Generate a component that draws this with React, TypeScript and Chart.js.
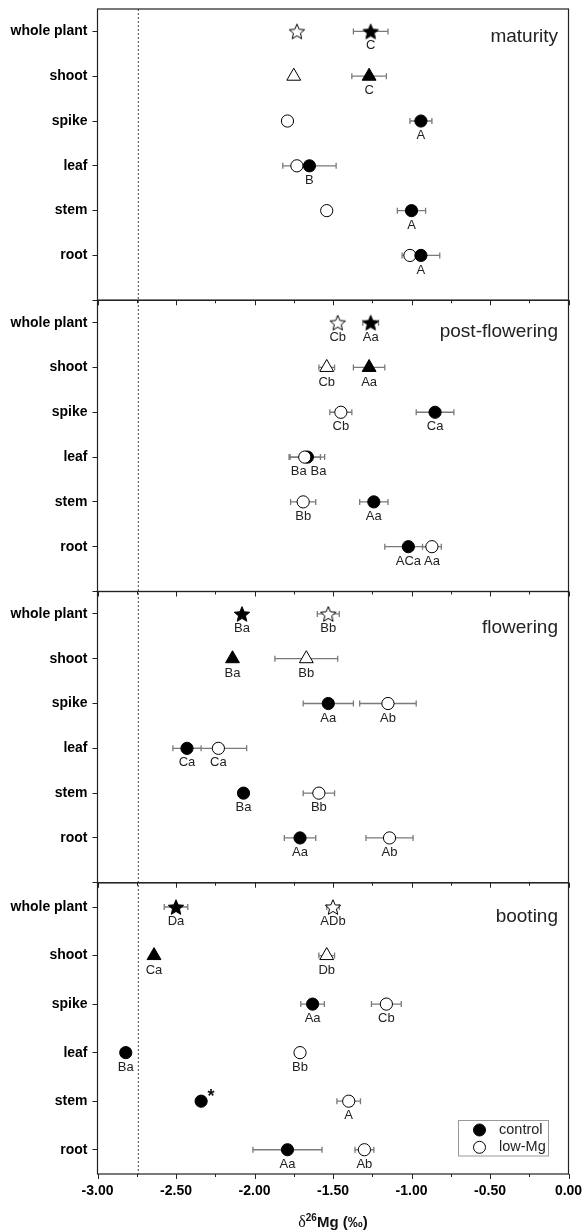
import React, { useEffect, useRef } from 'react';
import { Chart, registerables } from 'chart.js';

Chart.register(...registerables);

// ---------- data ----------
const categories = ['whole plant', 'shoot', 'spike', 'leaf', 'stem', 'root'];
const stages = ['maturity', 'post-flowering', 'flowering', 'booting'];
const seriesNames = ['control', 'low-Mg'];
const referenceLine = -2.74;

const maturityControl = [-1.26, -1.27, -0.94, -1.65, -1.0, -0.94];
const maturityControlErr = [0.11, 0.11, 0.07, 0.17, 0.09, 0.12];
const maturityControlLabels = ['C', 'C', 'A', 'B', 'A', 'A'];
const maturityLowMg = [-1.73, -1.75, -1.79, -1.73, -1.54, -1.01];
const maturityLowMgErr = [0, 0, 0, 0, 0, 0];
const maturityLowMgLabels = ['', '', '', '', '', ''];

const postControl = [-1.26, -1.27, -0.85, -1.663, -1.24, -1.02];
const postControlErr = [0.05, 0.1, 0.12, 0.11, 0.09, 0.15];
const postControlLabels = ['Aa', 'Aa', 'Ca', 'Ba', 'Aa', 'ACa'];
const postLowMg = [-1.47, -1.54, -1.45, -1.68, -1.69, -0.87];
const postLowMgErr = [0, 0.05, 0.07, 0.1, 0.08, 0.06];
const postLowMgLabels = ['Cb', 'Cb', 'Cb', 'Ba', 'Bb', 'Aa'];

const flowControl = [-2.08, -2.14, -1.53, -2.43, -2.07, -1.71];
const flowControlErr = [0, 0, 0.16, 0.09, 0, 0.1];
const flowControlLabels = ['Ba', 'Ba', 'Aa', 'Ca', 'Ba', 'Aa'];
const flowLowMg = [-1.53, -1.67, -1.15, -2.23, -1.59, -1.14];
const flowLowMgErr = [0.07, 0.2, 0.18, 0.18, 0.1, 0.15];
const flowLowMgLabels = ['Bb', 'Bb', 'Ab', 'Ca', 'Bb', 'Ab'];

const bootControl = [-2.5, -2.64, -1.63, -2.82, -2.34, -1.79];
const bootControlErr = [0.075, 0, 0.075, 0, 0, 0.22];
const bootControlLabels = ['Da', 'Ca', 'Aa', 'Ba', '', 'Aa'];
const bootControlMarks = ['', '', '', '', '*', ''];
const bootLowMg = [-1.5, -1.54, -1.16, -1.71, -1.4, -1.3];
const bootLowMgErr = [0.04, 0.05, 0.095, 0, 0.075, 0.06];
const bootLowMgLabels = ['ADb', 'Db', 'Cb', 'Bb', 'A', 'Ab'];

const noMarks = ['', '', '', '', '', ''];

const panels = [
  { control: maturityControl, controlErr: maturityControlErr, controlLabels: maturityControlLabels, controlMarks: noMarks,
    lowMg: maturityLowMg, lowMgErr: maturityLowMgErr, lowMgLabels: maturityLowMgLabels, controlOnTop: true },
  { control: postControl, controlErr: postControlErr, controlLabels: postControlLabels, controlMarks: noMarks,
    lowMg: postLowMg, lowMgErr: postLowMgErr, lowMgLabels: postLowMgLabels, controlOnTop: false },
  { control: flowControl, controlErr: flowControlErr, controlLabels: flowControlLabels, controlMarks: noMarks,
    lowMg: flowLowMg, lowMgErr: flowLowMgErr, lowMgLabels: flowLowMgLabels, controlOnTop: true },
  { control: bootControl, controlErr: bootControlErr, controlLabels: bootControlLabels, controlMarks: bootControlMarks,
    lowMg: bootLowMg, lowMgErr: bootLowMgErr, lowMgLabels: bootLowMgLabels, controlOnTop: true },
];

// ---------- styling ----------
const SANS = 'Arial, "Liberation Sans", Helvetica, sans-serif';
const SERIF = '"Liberation Serif", "Times New Roman", serif';
const panelYMin = [0, 0, 0, 0.5];
const panelTitleOffset = [28, 31.5, 36, 34];
const labelNudge: Record<string, number> = { '1-low-Mg-3': -6, '1-control-3': 11 };

function makeStar(fill: string): HTMLCanvasElement {
  const R = 8.1;
  const size = 22;
  const c = document.createElement('canvas');
  c.width = size;
  c.height = size;
  const g = c.getContext('2d')!;
  const cx = size / 2;
  const cy = size / 2 + 0.0955 * R;
  g.beginPath();
  for (let i = 0; i < 10; i++) {
    const r = i % 2 === 0 ? R : R * 0.45;
    const a = -Math.PI / 2 + (i * Math.PI) / 5;
    const px = cx + r * Math.cos(a);
    const py = cy + r * Math.sin(a);
    if (i === 0) g.moveTo(px, py);
    else g.lineTo(px, py);
  }
  g.closePath();
  g.fillStyle = fill;
  g.fill();
  g.lineWidth = 1;
  g.strokeStyle = '#000';
  g.stroke();
  return c;
}

export default function App() {
  const ref = useRef<HTMLCanvasElement | null>(null);

  useEffect(() => {
    const canvas = ref.current;
    if (!canvas) return;
    const filledStar = makeStar('#000');
    const openStar = makeStar('#fff');

    const axisIds = stages.map((_, i) => 'y' + i);
    const rows = categories.map((_, j) => categories.length - j);

    const datasets: any[] = [];
    panels.forEach((p, i) => {
      const mk = (name: string, values: number[], errs: number[], labels: string[], marks: string[], filled: boolean, order: number) => ({
        label: name + ' ' + stages[i],
        seriesName: name,
        panelIndex: i,
        data: values.map((v, j) => ({ x: v, y: rows[j] })),
        errors: errs,
        pointLabels: labels,
        marks,
        yAxisID: axisIds[i],
        order,
        backgroundColor: filled ? '#000' : '#fff',
        borderColor: '#000',
        borderWidth: 1,
        pointStyle: (ctx: any) => (ctx.dataIndex === 0 ? (filled ? filledStar : openStar) : ctx.dataIndex === 1 ? 'triangle' : 'circle'),
        pointRadius: (ctx: any) => (ctx.dataIndex === 1 ? 8 : 6.1),
        pointHoverRadius: (ctx: any) => (ctx.dataIndex === 1 ? 8 : 6.1),
        showLine: false,
        clip: false,
      });
      datasets.push(mk(seriesNames[0], p.control, p.controlErr, p.controlLabels, p.controlMarks, true, p.controlOnTop ? 0 : 1));
      datasets.push(mk(seriesNames[1], p.lowMg, p.lowMgErr, p.lowMgLabels, noMarks, false, p.controlOnTop ? 1 : 0));
    });

    const yScales: any = {};
    // defined bottom → top so the last defined ends on top of the stack
    for (let i = stages.length - 1; i >= 0; i--) {
      const min = panelYMin[i];
      yScales[axisIds[i]] = {
        type: 'linear',
        position: 'left',
        stack: 'panels',
        stackWeight: 1,
        min,
        max: 6.5,
        afterBuildTicks: (s: any) => {
          const vals: number[] = [];
          for (let v = Math.ceil(min); v <= categories.length; v++) vals.push(v);
          s.ticks = vals.map((v) => ({ value: v }));
        },
        afterFit: (s: any) => {
          s.width = 97.5;
          s.paddingTop = 0;
          s.paddingBottom = 0;
        },
        ticks: {
          autoSkip: false,
          padding: 5,
          color: '#000',
          font: { family: SANS, size: 14, weight: 'bold' },
          callback: (v: number) => (v >= 1 && v <= categories.length ? categories[categories.length - v] : ''),
        },
        grid: { display: true, drawOnChartArea: false, drawTicks: true, tickLength: 5, color: '#222', lineWidth: 1 },
        border: { display: false },
      };
    }

    const decorations = {
      id: 'decorations',
      beforeDatasetsDraw(chart: any) {
        const ctx = chart.ctx;
        const area = chart.chartArea;
        const xs = chart.scales.x;
        ctx.save();
        // reference dotted line
        const rx = xs.getPixelForValue(referenceLine);
        ctx.strokeStyle = '#444';
        ctx.lineWidth = 1;
        ctx.setLineDash([2, 2]);
        ctx.beginPath();
        ctx.moveTo(rx, area.top);
        ctx.lineTo(rx, area.bottom);
        ctx.stroke();
        ctx.setLineDash([]);
        // error bars
        ctx.strokeStyle = '#7a7a7a';
        ctx.lineWidth = 1.3;
        chart.data.datasets.forEach((ds: any) => {
          const ys = chart.scales[ds.yAxisID];
          ds.data.forEach((pt: any, j: number) => {
            const e = ds.errors[j];
            if (!e) return;
            const x0 = xs.getPixelForValue(pt.x - e);
            const x1 = xs.getPixelForValue(pt.x + e);
            const y = ys.getPixelForValue(pt.y);
            ctx.beginPath();
            ctx.moveTo(x0, y);
            ctx.lineTo(x1, y);
            ctx.moveTo(x0, y - 3);
            ctx.lineTo(x0, y + 3);
            ctx.moveTo(x1, y - 3);
            ctx.lineTo(x1, y + 3);
            ctx.stroke();
          });
        });
        ctx.restore();
      },
      afterDatasetsDraw(chart: any) {
        const ctx = chart.ctx;
        const area = chart.chartArea;
        const xs = chart.scales.x;
        ctx.save();
        // panel frames and x ticks at each panel bottom
        axisIds.forEach((id) => {
          const s = chart.scales[id];
          ctx.strokeStyle = '#222';
          ctx.lineWidth = 1.2;
          ctx.strokeRect(area.left, s.top, area.right - area.left, s.bottom - s.top);
          ctx.lineWidth = 1;
          ctx.beginPath();
          for (let k = 0; k <= 12; k++) {
            const v = -3 + k * 0.25;
            const px = Math.round(xs.getPixelForValue(v)) + 0.5;
            const len = k % 2 === 0 ? 5 : 3;
            ctx.moveTo(px, s.bottom);
            ctx.lineTo(px, s.bottom + len);
          }
          ctx.stroke();
        });
        // panel titles
        ctx.fillStyle = '#222';
        ctx.font = `19px ${SANS}`;
        ctx.textAlign = 'right';
        ctx.textBaseline = 'middle';
        stages.forEach((st, i) => {
          const s = chart.scales[axisIds[i]];
          ctx.fillText(st, area.right - 10.5, s.top + panelTitleOffset[i]);
        });
        // point labels
        ctx.textAlign = 'center';
        chart.data.datasets.forEach((ds: any, di: number) => {
          const meta = chart.getDatasetMeta(di);
          meta.data.forEach((el: any, j: number) => {
            const t = ds.pointLabels[j];
            if (t) {
              const dx = labelNudge[`${ds.panelIndex}-${ds.seriesName}-${j}`] || 0;
              ctx.fillStyle = '#222';
              ctx.font = `13px ${SANS}`;
              ctx.fillText(t, el.x + dx, el.y + 14.5);
            }
            const m = ds.marks[j];
            if (m) {
              ctx.font = `bold 18px ${SANS}`;
              ctx.fillStyle = '#111';
              ctx.fillText(m, el.x + 10, el.y - 4);
            }
          });
        });
        // legend
        const bottomScale = chart.scales[axisIds[axisIds.length - 1]];
        const lr = area.right - 20;
        const lb = bottomScale.bottom - 18;
        const lw = 90;
        const lh = 35.5;
        ctx.strokeStyle = '#999';
        ctx.lineWidth = 1;
        ctx.strokeRect(lr - lw, lb - lh, lw, lh);
        const entries = [
          { name: seriesNames[0], fill: '#000' },
          { name: seriesNames[1], fill: '#fff' },
        ];
        entries.forEach((en, k) => {
          const cy = lb - lh + 9.5 + k * 17.3;
          const cx = lr - lw + 21;
          ctx.beginPath();
          ctx.arc(cx, cy, 6, 0, Math.PI * 2);
          ctx.fillStyle = en.fill;
          ctx.fill();
          ctx.strokeStyle = '#000';
          ctx.stroke();
          ctx.fillStyle = '#222';
          ctx.font = `14.5px ${SANS}`;
          ctx.textAlign = 'left';
          ctx.textBaseline = 'middle';
          ctx.fillText(en.name, cx + 19.5, cy);
        });
        // x-axis title: δ26Mg (‰)
        const parts = [
          { t: 'δ', font: `16px ${SERIF}`, dy: 0 },
          { t: '26', font: `bold 10px ${SANS}`, dy: -6.6 },
          { t: 'Mg', font: `bold 15px ${SANS}`, dy: 0 },
          { t: ' (‰)', font: `bold 15px ${SANS}`, dy: 0 },
        ];
        let total = 0;
        parts.forEach((p) => {
          ctx.font = p.font;
          total += ctx.measureText(p.t).width;
        });
        let x = (area.left + area.right) / 2 - total / 2;
        const base = area.bottom + 53.3;
        ctx.textAlign = 'left';
        ctx.textBaseline = 'alphabetic';
        ctx.fillStyle = '#111';
        parts.forEach((p) => {
          ctx.font = p.font;
          ctx.fillText(p.t, x, base + p.dy);
          x += ctx.measureText(p.t).width;
        });
        ctx.restore();
      },
    };

    const chart = new Chart(canvas, {
      type: 'scatter',
      data: { datasets },
      options: {
        animation: false,
        responsive: false,
        events: [],
        layout: { padding: { top: 8, right: 13.5, left: 0, bottom: 0 } },
        plugins: { legend: { display: false }, tooltip: { enabled: false } },
        scales: {
          x: {
            type: 'linear',
            position: 'bottom',
            min: -3,
            max: 0,
            afterFit: (s: any) => {
              s.height = 58;
              s.paddingLeft = 0;
              s.paddingRight = 0;
            },
            ticks: {
              stepSize: 0.5,
              autoSkip: false,
              maxRotation: 0,
              padding: 9,
              color: '#000',
              font: { family: SANS, size: 14, weight: 'bold' },
              callback: (v: number) => Number(v).toFixed(2),
            },
            grid: { display: false, drawTicks: false },
            border: { display: false },
          },
          ...yScales,
        },
      } as any,
      plugins: [decorations],
    });
    return () => chart.destroy();
  }, []);

  return (
    <div style={{ position: 'absolute', left: 0, top: 0, width: 582, height: 1232, background: '#fff' }}>
      <canvas ref={ref} width={582} height={1232} />
    </div>
  );
}
